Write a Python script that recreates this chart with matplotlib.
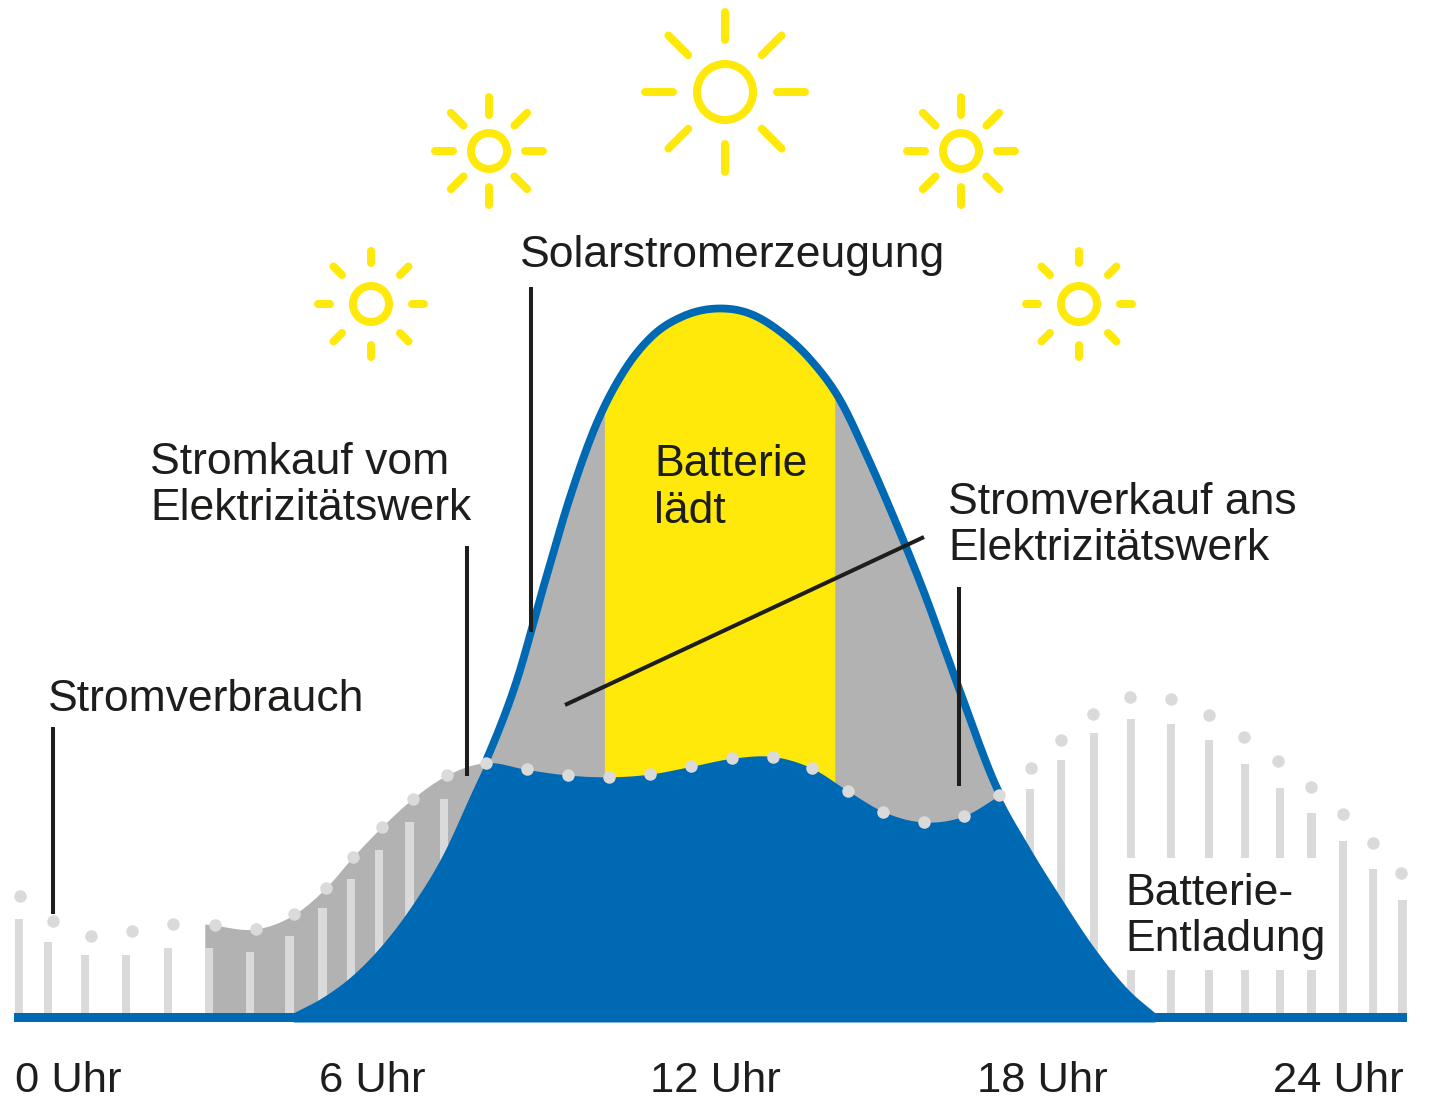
import numpy as np
import matplotlib
matplotlib.use('Agg')
import matplotlib.pyplot as plt
from matplotlib.patches import Circle, Rectangle

plt.rcParams['font.family'] = ['Liberation Sans', 'DejaVu Sans']

BLUE = '#0069b4'
YELLOW = '#ffe90a'
GRAY = '#b2b2b2'
LIGHT = '#dadada'
INK = '#1d1d1b'

# Stunde, Leistung (Spitze Solar = ca. 100)
bar_hours = [0.0, 0.50, 1.14, 1.85, 2.58, 3.29, 4.00, 4.69, 5.26, 5.75, 6.24, 6.77, 7.37,
             17.52, 18.06, 18.63, 19.27, 19.97, 20.62, 21.25, 21.85, 22.40, 22.95, 23.47, 23.98]
bar_values = [13.43, 10.14, 8.29, 8.29, 9.29, 9.29, 8.71, 11.0, 15.0, 19.14, 23.29, 27.29, 30.57,
              31.96, 36.14, 39.96, 41.96, 41.29, 39.0, 35.57, 32.1, 28.53, 24.57, 20.57, 16.19]

dot_hours = [0.01, 0.59, 1.25, 1.96, 2.67, 3.39, 4.10, 4.77, 5.32, 5.79, 6.29, 6.82, 7.42, 8.09,
             8.80, 9.51, 10.23, 10.94, 11.65, 12.36, 13.07, 13.75, 14.37, 14.98, 15.68, 16.38, 16.99,
             17.54, 18.06, 18.61, 19.25, 19.97, 20.62, 21.23, 21.82, 22.39, 22.95, 23.47, 23.95]
dot_values = [16.76, 13.19, 11.0, 11.67, 12.71, 12.53, 12.0, 14.1, 17.9, 22.33, 26.61, 30.61, 34.0, 35.76,
              34.79, 34.0, 33.74, 34.14, 35.24, 36.39, 36.64, 34.94, 31.71, 28.77, 27.29, 28.17, 31.1,
              34.96, 39.0, 42.71, 45.14, 44.86, 42.61, 39.47, 36.04, 32.33, 28.47, 24.33, 20.0]

solar_hours = [4.75, 5.26, 5.75, 6.24, 6.77, 7.37, 7.82, 8.15, 8.63, 9.09, 9.55, 10.0, 10.5, 11.0, 11.5,
               12.1, 12.67, 13.2, 13.71, 14.23, 14.69, 15.15, 15.67, 16.28, 16.95,
               17.52, 18.06, 18.61, 19.25, 19.69]
solar_values = [0, 2.24, 5.19, 9.24, 14.9, 23.04, 31.14, 37.1, 47.57, 60.9, 73.7, 84.0, 91.9, 96.9, 99.5,
                100.64, 99.9, 97.3, 93.4, 87.57, 79.7, 71.0, 60.43, 46.61, 32.1,
                23.57, 16.43, 9.6, 3.14, 0]

buy_start = 3.22       # Beginn Stromkauf
buy_start_value = 12.71
cross_left = 8.09      # Solar > Verbrauch
cross_right = 16.99
charge_start = 10.14
charge_end = 14.14

tick_labels = ['0 Uhr', '6 Uhr', '12 Uhr', '18 Uhr', '24 Uhr']


def smooth(x, y, n=20):
    x = np.array(x, float)
    y = np.array(y, float)
    m = np.gradient(y, x)
    t = np.linspace(0, 1, n, endpoint=False)
    xs, ys = [], []
    for i in range(len(x) - 1):
        h = x[i + 1] - x[i]
        xs.append(x[i] + t * h)
        ys.append((2 * t ** 3 - 3 * t ** 2 + 1) * y[i] + (t ** 3 - 2 * t ** 2 + t) * h * m[i]
                  + (-2 * t ** 3 + 3 * t ** 2) * y[i + 1] + (t ** 3 - t ** 2) * h * m[i + 1])
    xs.append(x[-1:])
    ys.append(y[-1:])
    return np.concatenate(xs), np.concatenate(ys)


fig = plt.figure(figsize=(14.36, 11.08), dpi=100)

# Datenachse: 1 Stunde = 57.7 px, 1 Einheit = 7 px
ax = fig.add_axes([0, 0, 1, 1])
ax.set_xlim(-19 / 57.7, (1436 - 19) / 57.7)
ax.set_ylim(-(1108 - 1013) / 7, 1013 / 7)
ax.axis('off')

cons_x, cons_y = smooth([buy_start] + dot_hours[5:27], [buy_start_value] + dot_values[5:27])
sol_x, sol_y = smooth(solar_hours, solar_values)

grid = np.linspace(buy_start, solar_hours[-1], 3000)
cons_g = np.interp(grid, cons_x, cons_y)
sol_g = np.interp(grid, sol_x, sol_y, left=0, right=0)

# graue flaechen
ax.fill_between(grid, 0, cons_g, where=grid <= cross_left, color=GRAY, lw=0, zorder=1)
ax.fill_between(grid, 0, sol_g, where=(grid >= cross_left) & (grid <= cross_right), color=GRAY, lw=0, zorder=1)
# batterie laedt
ax.fill_between(grid, 0, sol_g, where=(grid >= charge_start) & (grid <= charge_end), color=YELLOW, lw=0, zorder=1.5)

ax.bar(bar_hours, bar_values, width=8.3 / 57.7, color=LIGHT, lw=0, zorder=2)

# direkt genutzter solarstrom
top = np.where(grid <= cross_right, np.minimum(cons_g, sol_g), sol_g)
ax.fill_between(grid, -9 / 7, top, where=grid >= solar_hours[0], color=BLUE, lw=0, zorder=3)
ax.fill_between([bar_hours[0] - 0.08, bar_hours[-1] + 0.08], -9 / 7, 0, color=BLUE, lw=0, zorder=3)

mask = (sol_x >= cross_left) & (sol_x <= cross_right)
ax.plot(sol_x[mask], sol_y[mask], color=BLUE, lw=5.6, zorder=4, solid_capstyle='butt')

ax.plot(dot_hours, dot_values, 'o', color=LIGHT, ms=9, mew=0, zorder=6)

# beschriftung, linien und sonnen in pixelkoordinaten
deco = fig.add_axes([0, 0, 1, 1])
deco.set_xlim(0, 1436)
deco.set_ylim(1108, 0)
deco.axis('off')
deco.patch.set_alpha(0)

deco.add_patch(Rectangle((1122, 858), 208, 112, fc='white', ec='none', zorder=1))


def sun(cx, cy, ring, ray_in, ray_out):
    deco.add_patch(Circle((cx, cy), ring, fc='none', ec=YELLOW, lw=8 * 0.72, zorder=2))
    for a in np.arange(8) * np.pi / 4:
        deco.plot([cx + ray_in * np.cos(a), cx + ray_out * np.cos(a)],
                  [cy + ray_in * np.sin(a), cy + ray_out * np.sin(a)],
                  color=YELLOW, lw=8 * 0.72, solid_capstyle='round', zorder=2)


sun(725, 92, 28, 52, 80)
sun(489, 151, 18, 36, 54)
sun(961, 151, 18, 36, 54)
sun(371, 304, 18, 41, 53)
sun(1079, 304, 18, 41, 53)

leaders = [((53, 53), (727, 914)), ((466.5, 466.5), (546, 776)), ((530.5, 530.5), (287, 632)),
           ((958.5, 958.5), (587, 786)), ((565, 924), (705, 537))]
for xs, ys in leaders:
    deco.plot(xs, ys, color=INK, lw=2.9, solid_capstyle='butt', zorder=3)

texts = [(520, 251, 'Solarstromerzeugung'), (150, 458, 'Stromkauf vom'), (150, 504, 'Elektrizitätswerk'),
         (48, 695, 'Stromverbrauch'), (654, 460, 'Batterie'), (654, 507, 'lädt'),
         (948, 498, 'Stromverkauf ans'), (948, 544, 'Elektrizitätswerk'),
         (1125, 889, 'Batterie-'), (1125, 935, 'Entladung')]
for x, y, s in texts:
    deco.text(x, y, s, fontsize=32, color=INK, ha='left', va='center_baseline', zorder=4)

for x, s in zip([15, 319, 650, 977, 1273], tick_labels):
    deco.text(x, 1076, s, fontsize=31.3, color=INK, ha='left', va='center_baseline', zorder=4)

fig.savefig('out.png', dpi=100, facecolor='white')
